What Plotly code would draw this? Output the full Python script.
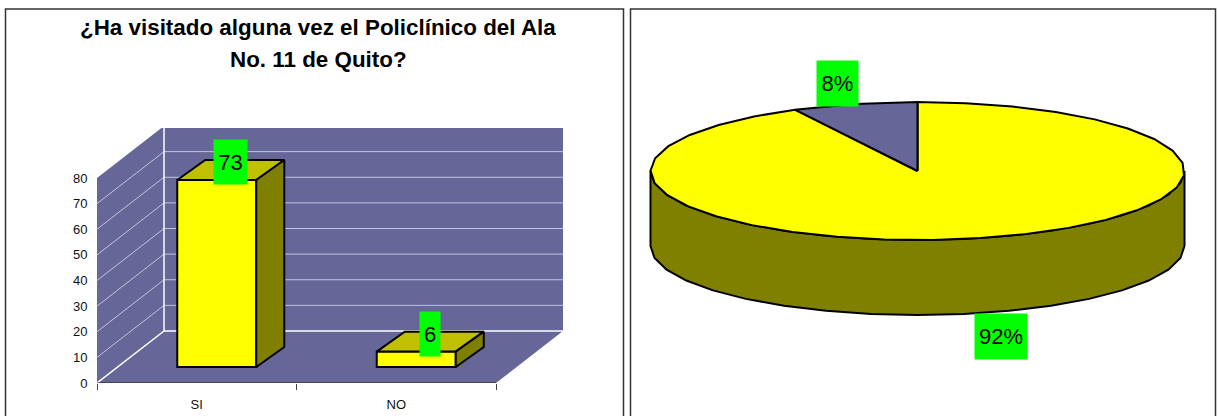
import numpy as np
import plotly.graph_objects as go

# Datos
categories = ["SI", "NO"]
values = [73, 6]
pie_labels = ["92%", "8%"]
y_ticks = [0, 10, 20, 30, 40, 50, 60, 70, 80]
title_lines = ["¿Ha visitado alguna vez el Policlínico del Ala", "No. 11 de Quito?"]

W, H = 1218, 416
FONT = "Liberation Sans"
WALL = "#666699"
GRID = "#c4c4dc"
YELLOW = "#ffff00"
TOP = "#c0c000"
DARK = "#808000"
GREEN = "#00ff00"

# escala del grafico de barras en pixeles
X0, X1, Y0, Y1 = 97, 563, 383, 128
PX_CAT = 199.5   # px por categoria
PX_VAL = 2.5625  # px por unidad
ROOM_X, ROOM_Y = 67 / PX_CAT, 52 / PX_VAL
BAR_W = 79 / PX_CAT
LIFT_X, LIFT_Y = 20 / PX_CAT, 16 / PX_VAL
DEPTH_X, DEPTH_Y = 28 / PX_CAT, 20 / PX_VAL
x_range = [-0.5, -0.5 + (X1 - X0) / PX_CAT]
y_range = [0, (Y0 - Y1) / PX_VAL]

# escala del pastel, radio = 1
CX, CY, RX, RY, THICK = 917.5, 171, 267, 69, 75
PIE_L, PIE_R, PIE_T = 632, 1216, 10

fig = go.Figure()


def poly(xs, ys, color, xaxis="x", yaxis="y", width=2):
    fig.add_trace(go.Scatter(x=list(xs) + [xs[0]], y=list(ys) + [ys[0]], mode="lines", fill="toself",
                             fillcolor=color, line=dict(color="black", width=width),
                             hoverinfo="skip", showlegend=False, xaxis=xaxis, yaxis=yaxis))


def wall(xs, ys):
    path = "M " + " L ".join(f"{a},{b}" for a, b in zip(xs, ys)) + " Z"
    fig.add_shape(type="path", path=path, fillcolor=WALL, line_width=0, layer="below", xref="x", yref="y")


def room_line(x0, y0, x1, y1, color=GRID, width=1):
    fig.add_shape(type="line", x0=x0, y0=y0, x1=x1, y1=y1, line=dict(color=color, width=width),
                  layer="below", xref="x", yref="y")


# paredes y piso
xl, xr = -0.5, 1.5
top = y_ticks[-1]
wall([xl + ROOM_X, xr + ROOM_X, xr + ROOM_X, xl + ROOM_X], [ROOM_Y, ROOM_Y, top + ROOM_Y, top + ROOM_Y])
wall([xl, xl + ROOM_X, xl + ROOM_X, xl], [0, ROOM_Y, top + ROOM_Y, top])
wall([xl, xr, xr + ROOM_X, xl + ROOM_X], [0, 0, ROOM_Y, ROOM_Y])
for t in y_ticks[1:-1]:
    room_line(xl, t, xl + ROOM_X, t + ROOM_Y)
    room_line(xl + ROOM_X, t + ROOM_Y, xr + ROOM_X, t + ROOM_Y)
room_line(xl, 0, xl + ROOM_X, ROOM_Y, "white", 1.5)
room_line(xl + ROOM_X, ROOM_Y, xr + ROOM_X, ROOM_Y, "white", 1.5)
room_line(xl + ROOM_X, ROOM_Y, xl + ROOM_X, top + ROOM_Y, "white", 1.5)
room_line(xl, 0, xr, 0, "#222222", 1.2)

# barras
cats = np.arange(len(categories))
fig.add_trace(go.Bar(x=cats + LIFT_X, y=values, base=LIFT_Y, width=BAR_W, marker=dict(color=YELLOW, line=dict(color="black", width=2)),
                     hoverinfo="skip", showlegend=False))
for c, v in zip(cats, values):
    l, r = c + LIFT_X - BAR_W / 2, c + LIFT_X + BAR_W / 2
    b, t = LIFT_Y, LIFT_Y + v
    poly([l, r, r + DEPTH_X, l + DEPTH_X], [t, t, t + DEPTH_Y, t + DEPTH_Y], TOP)
    poly([r, r + DEPTH_X, r + DEPTH_X, r], [b, b + DEPTH_Y, t + DEPTH_Y, t], DARK)
    fig.add_annotation(x=c + LIFT_X + DEPTH_X / 2, y=t + DEPTH_Y / 2, yshift=8, text=str(v), showarrow=False,
                       bgcolor=GREEN, width=33 if v > 9 else 20, height=44, borderpad=0,
                       font=dict(family=FONT, size=22, color="black"))

# pastel
shares = np.array(values) / sum(values)
ends = np.cumsum(shares) * 2 * np.pi
starts = ends - shares * 2 * np.pi
depth = THICK / RY

low = np.linspace(np.pi / 2, 3 * np.pi / 2, 19)
side_x = np.concatenate([np.sin(low), np.sin(low[::-1])])
side_y = np.concatenate([np.cos(low) - depth, np.cos(low[::-1])])
poly(side_x, side_y, DARK, "x2", "y2")

for s, e, color in zip(starts, ends, [YELLOW, WALL]):
    n = max(int((e - s) / (2 * np.pi) * 36), 3)
    t = np.linspace(s, e, n)
    poly(np.r_[0, np.sin(t)], np.r_[0, np.cos(t)], color, "x2", "y2")

for text, px, py in zip(pie_labels, [1001, 837], [336.5, 83.5]):
    fig.add_annotation(x=(px - CX) / RX, y=(CY - py) / RY, xref="x2", yref="y2", text=text, showarrow=False,
                       bgcolor=GREEN, width=52 if text == pie_labels[0] else 41, height=45, borderpad=0,
                       font=dict(family=FONT, size=22, color="black"))

# titulo en dos lineas
for line, py in zip(title_lines, [28, 59]):
    fig.add_annotation(x=318 / W, y=1 - py / H, xref="paper", yref="paper", text=f"<b>{line}</b>", showarrow=False,
                       xanchor="center", yanchor="middle", font=dict(family=FONT, size=22.4, color="black"))

# marcos de los dos paneles
for x0, x1 in [(5.5, 623.5), (630.5, 1215.5)]:
    fig.add_shape(type="rect", x0=x0 / W, x1=x1 / W, y0=-0.1, y1=1 - 9 / H, xref="paper", yref="paper",
                  line=dict(color="#333333", width=1.5), layer="below")

fig.update_layout(
    width=W, height=H, margin=dict(l=0, r=0, t=0, b=0, autoexpand=False), paper_bgcolor="white", plot_bgcolor="rgba(0,0,0,0)",
    showlegend=False, font=dict(family=FONT, color="#111111"),
    xaxis=dict(domain=[X0 / W, X1 / W], range=x_range, tickvals=list(cats), ticktext=categories, showgrid=False,
               zeroline=False, ticks="outside", ticklen=9, tickcolor="rgba(0,0,0,0)", tickfont=dict(size=13),
               minor=dict(tickvals=[xl, 0.5, xr], ticks="outside", ticklen=6, tickcolor="#444444", showgrid=False)),
    yaxis=dict(domain=[1 - Y0 / H, 1 - Y1 / H], range=y_range, tickvals=y_ticks, showgrid=False, zeroline=False,
               ticks="outside", ticklen=6, tickcolor="rgba(0,0,0,0)", tickfont=dict(size=13)),
    xaxis2=dict(domain=[PIE_L / W, PIE_R / W], range=[(PIE_L - CX) / RX, (PIE_R - CX) / RX], visible=False),
    yaxis2=dict(domain=[0, 1 - PIE_T / H], range=[(CY - H) / RY, (CY - PIE_T) / RY], visible=False, anchor="x2"),
)

fig.write_html("out.html", config={"displayModeBar": False}, post_script="document.body.style.margin='0';")
